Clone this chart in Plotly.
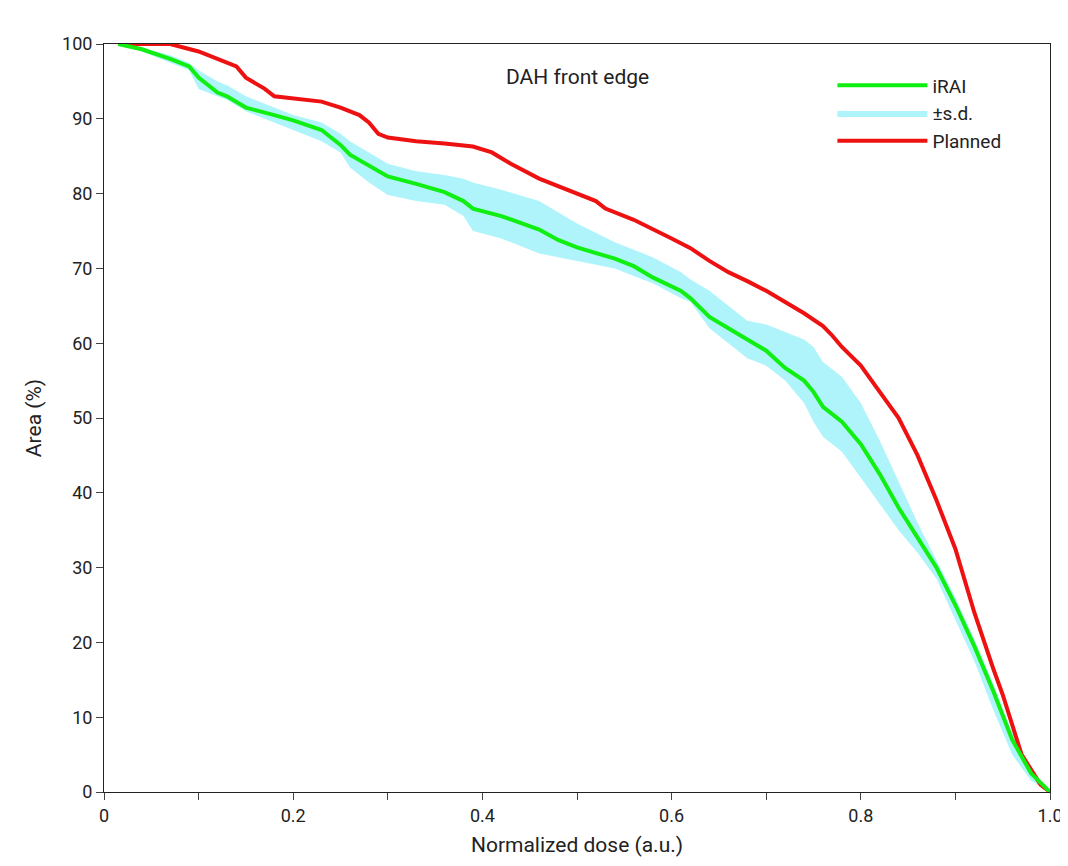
import plotly.graph_objects as go

x_planned = [0.015,0.04,0.07,0.1,0.12,0.14,0.15,0.17,0.18,0.2,0.23,0.25,0.27,0.28,0.29,0.3,0.33,0.36,0.39,0.41,0.43,0.46,0.48,0.5,0.52,0.53,0.56,0.6,0.62,0.64,0.66,0.68,0.7,0.72,0.74,0.76,0.77,0.78,0.8,0.82,0.84,0.86,0.88,0.9,0.92,0.94,0.95,0.97,0.99,1.0]
planned = [100,100,100,99,98,97,95.5,94,93,92.7,92.3,91.5,90.5,89.5,88,87.5,87,86.7,86.3,85.5,84,82,81,80,79,78,76.5,74,72.7,71,69.5,68.3,67,65.5,64,62.3,61,59.5,57,53.5,50,45,39,32.5,24,16.5,13,5,1,0]

x_irai = [0.015,0.04,0.07,0.09,0.1,0.12,0.13,0.15,0.18,0.2,0.23,0.25,0.26,0.28,0.3,0.33,0.36,0.38,0.39,0.42,0.46,0.48,0.5,0.54,0.56,0.58,0.61,0.62,0.64,0.66,0.68,0.7,0.72,0.74,0.75,0.76,0.78,0.8,0.82,0.84,0.86,0.88,0.9,0.92,0.94,0.96,0.98,1.0]
irai = [100,99.3,98,97,95.5,93.5,93,91.5,90.5,89.8,88.5,86.5,85.2,83.8,82.3,81.3,80.2,79,78,77,75.2,73.8,72.8,71.3,70.3,68.8,67,66,63.5,62,60.5,59,56.7,55,53.5,51.5,49.5,46.5,42.5,38,34,30,25,19.5,13.5,7,2.5,0]
sd_upper = [100,99.5,98.5,97.5,96.5,95,94.5,93,91.5,90.5,89.5,88,87,85.5,84,83,82.5,82,81.5,80.5,79,77.5,76,73.5,72.5,71.5,69.5,68.5,67,65,63,62.5,61.5,60.5,59.5,57.5,55.5,52,47,41.5,36,31,26,20.5,14.5,8,3,0]
sd_lower = [100,99,97.5,96.5,94,93,92.5,91,89.5,88.5,87,85.5,83.5,81.5,79.8,79,78.5,77,75,74,72,71.5,71,70,69,68,66,65.5,62,60,58,57,55,52,49.5,47.5,45.5,42,38.5,35,32,28.5,23,17.5,11,5,1.5,0]

x_ticks = [0,0.1,0.2,0.3,0.4,0.5,0.6,0.7,0.8,0.9,1.0]
x_labels = ["0","","0.2","","0.4","","0.6","","0.8","","1.0"]

fig = go.Figure()
fig.add_trace(go.Scatter(x=x_irai, y=sd_upper, mode="lines", line=dict(width=0), showlegend=False, hoverinfo="skip"))
fig.add_trace(go.Scatter(x=x_irai, y=sd_lower, mode="lines", line=dict(width=0), fill="tonexty",
                         fillcolor="rgba(150,240,250,0.75)", name="±s.d.", legendrank=2))
fig.add_trace(go.Scatter(x=x_planned, y=planned, mode="lines", line=dict(color="#ee1111", width=4), name="Planned", legendrank=1))
fig.add_trace(go.Scatter(x=x_irai, y=irai, mode="lines", line=dict(color="#11ee11", width=4), name="iRAI", legendrank=3))

fig.update_layout(
    width=1068, height=866, plot_bgcolor="white", paper_bgcolor="white",
    margin=dict(l=96, r=26, t=36, b=82, autoexpand=False),
    font=dict(family="Roboto", size=18, color="#222"),
    legend=dict(x=0.77, y=0.97, xanchor="left", yanchor="top",
                font=dict(size=19), bgcolor="rgba(0,0,0,0)", itemwidth=90),
    annotations=[dict(text="DAH front edge", x=0.5, y=0.975, xref="paper", yref="paper",
                      showarrow=False, font=dict(size=21), xanchor="center", yanchor="top")],
)
fig.update_xaxes(range=[0, 1.0], tickvals=x_ticks, ticktext=x_labels, ticks="outside", ticklen=7,
                 showgrid=False, showline=True, linecolor="#222", mirror=True, zeroline=False, automargin=False,
                 title=dict(text="Normalized dose (a.u.)", font=dict(size=21), standoff=12))
fig.update_yaxes(range=[0, 100], dtick=10, ticks="outside", ticklen=7,
                 showgrid=False, showline=True, linecolor="#222", mirror=True, zeroline=False, automargin=False,
                 title=dict(text="Area (%)", font=dict(size=21), standoff=14))
fig.write_html("out.html")
